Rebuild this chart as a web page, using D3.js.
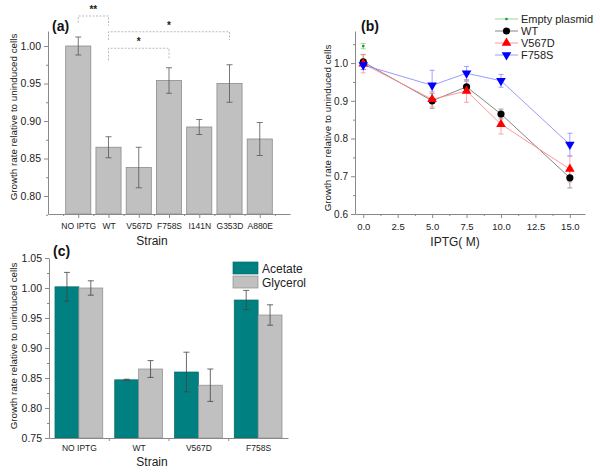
<!DOCTYPE html>
<html><head><meta charset="utf-8">
<script src="https://cdn.jsdelivr.net/npm/d3@7/dist/d3.min.js"></script>
<style>
body{margin:0;background:#fff;}
svg{display:block;font-family:"Liberation Sans",Arial,sans-serif;}
</style></head>
<body><svg id="c" width="600" height="474"></svg>
<script>
// ---------- Panel (a) data ----------
const strainsA = ["NO IPTG","WT","V567D","F758S","I141N","G353D","A880E"];
const valuesA  = [1.000, 0.865, 0.838, 0.954, 0.892, 0.950, 0.876];
const errA     = [0.012, 0.014, 0.027, 0.017, 0.010, 0.025, 0.022];
const ticksA   = [0.80, 0.85, 0.90, 0.95, 1.00];
// significance brackets: [from index, to index, top value, left-end value, right-end value, label]
const sigBrackets = [
  [0, 1, 1.040, 1.031, 1.027, "**"],
  [1, 5, 1.019, 1.008, 1.008, "*"],
  [1, 3, 0.997, 0.981, 0.982, "*"]
];

// ---------- Panel (b) data ----------
const iptg = [0, 5, 7.5, 10, 15];
const ticksBx = [0, 2.5, 5, 7.5, 10, 12.5, 15];
const ticksBy = [0.6, 0.7, 0.8, 0.9, 1.0];
const emptyX = [0];
const emptyY = [1.045];
const emptyE = [0.007];
const wtY  = [1.003, 0.900, 0.937, 0.865, 0.696];
const wtE  = [0.020, 0.020, 0.015, 0.013, 0.027];
const vY   = [0.998, 0.904, 0.926, 0.838, 0.719];
const vE   = [0.024, 0.020, 0.030, 0.026, 0.034];
const fY   = [0.995, 0.941, 0.973, 0.953, 0.784];
const fE   = [0.012, 0.040, 0.018, 0.017, 0.030];
const seriesB = ["Empty plasmid","WT","V567D","F758S"];

// ---------- Panel (c) data ----------
const strainsC = ["NO IPTG","WT","V567D","F758S"];
const acetate  = [1.002, 0.847, 0.860, 0.980];
const acetateE = [0.024, 0.001, 0.033, 0.016];
const glycerol = [1.000, 0.865, 0.838, 0.955];
const glycerolE= [0.012, 0.014, 0.027, 0.017];
const ticksC   = [0.75, 0.80, 0.85, 0.90, 0.95, 1.00, 1.05];
const seriesC  = ["Acetate","Glycerol"];

const svg = d3.select("#c");
const axisCol = "#8a8a8a";
const txtCol = "#222";

function styleAxis(g){
  g.select(".domain").attr("stroke", axisCol);
  g.selectAll(".tick line").attr("stroke", axisCol);
  g.selectAll(".tick text").attr("fill", txtCol);
}

// ================= Panel (a) =================
{
  const xa = d3.scaleLinear().domain([0, 8]).range([48, 290]);
  const ya = d3.scaleLinear().domain([0.776, 1.02]).range([214, 31]);
  const g = svg.append("g");
  const bw = (xa(1) - xa(0)) * 0.83;

  g.selectAll("rect.bar").data(valuesA).join("rect")
    .attr("x", (d,i) => xa(i+1) - bw/2).attr("width", bw)
    .attr("y", d => ya(d)).attr("height", d => ya.range()[0] - ya(d))
    .attr("fill", "#c0c0c0").attr("stroke", "#8c8c8c").attr("stroke-width", 0.8);

  // error bars
  const eb = g.selectAll("g.eb").data(valuesA).join("g").attr("stroke", "#555").attr("stroke-width", 0.8);
  eb.append("line").attr("x1",(d,i)=>xa(i+1)).attr("x2",(d,i)=>xa(i+1))
    .attr("y1",(d,i)=>ya(d-errA[i])).attr("y2",(d,i)=>ya(d+errA[i]));
  eb.append("line").attr("x1",(d,i)=>xa(i+1)-3).attr("x2",(d,i)=>xa(i+1)+3)
    .attr("y1",(d,i)=>ya(d+errA[i])).attr("y2",(d,i)=>ya(d+errA[i]));
  eb.append("line").attr("x1",(d,i)=>xa(i+1)-3).attr("x2",(d,i)=>xa(i+1)+3)
    .attr("y1",(d,i)=>ya(d-errA[i])).attr("y2",(d,i)=>ya(d-errA[i]));

  // y axis
  const yAx = g.append("g").attr("transform",`translate(${xa(0)},0)`)
    .call(d3.axisLeft(ya).tickValues(ticksA).tickFormat(d3.format(".2f")).tickSize(4).tickSizeOuter(0));
  yAx.selectAll(".tick text").attr("font-size", 10.5);
  styleAxis(yAx);
  g.append("g").attr("transform",`translate(${xa(0)},0)`)
    .call(d3.axisLeft(ya).tickValues(d3.range(0.775, 1.02, 0.025).filter(v=>ticksA.every(t=>Math.abs(t-v)>0.001))).tickSize(2).tickFormat(""))
    .call(a=>{a.select(".domain").remove(); a.selectAll("line").attr("stroke",axisCol);});

  // x axis
  const xAx = g.append("g").attr("transform",`translate(0,${ya.range()[0]})`)
    .call(d3.axisBottom(xa).tickValues(d3.range(1,8)).tickFormat(i=>strainsA[i-1]).tickSize(4).tickSizeOuter(0));
  xAx.selectAll(".tick text").attr("font-size", 8.5).attr("dy","0.9em");
  styleAxis(xAx);
  g.append("g").attr("transform",`translate(0,${ya.range()[0]})`)
    .call(d3.axisBottom(xa).tickValues(d3.range(0.5,8,1)).tickSize(2).tickFormat(""))
    .call(a=>{a.select(".domain").remove(); a.selectAll("line").attr("stroke",axisCol);});

  // brackets
  sigBrackets.forEach(b => {
    const [i0,i1,top,l,r,lab] = b;
    g.append("path")
      .attr("d", `M${xa(i0+1)},${ya(l)}V${ya(top)}H${xa(i1+1)}V${ya(r)}`)
      .attr("fill","none").attr("stroke","#aaa").attr("stroke-width",0.8).attr("stroke-dasharray","2,1.5");
    g.append("text").attr("x", xa((i0+i1)/2+1)).attr("y", ya(top)-3)
      .attr("text-anchor","middle").attr("font-size",10).attr("font-weight","bold").attr("fill",txtCol).text(lab);
  });

  g.append("text").attr("x",52).attr("y",31).attr("font-size",14).attr("font-weight","bold").attr("fill","#111").text("(a)");
  g.append("text").attr("transform",`translate(17,117)rotate(-90)`).attr("text-anchor","middle")
    .attr("font-size",9.8).attr("fill",txtCol).text("Growth rate relative to uninduced cells");
  g.append("text").attr("x",152).attr("y",245).attr("text-anchor","middle").attr("font-size",12).attr("fill",txtCol).text("Strain");
}

// ================= Panel (b) =================
{
  const xb = d3.scaleLinear().domain([-0.6, 16.1]).range([355, 585]);
  const yb = d3.scaleLinear().domain([0.6, 1.085]).range([214, 31]);
  const g = svg.append("g");

  const yAx = g.append("g").attr("transform",`translate(${xb.range()[0]},0)`)
    .call(d3.axisLeft(yb).tickValues(ticksBy).tickFormat(d3.format(".1f")).tickSize(4).tickSizeOuter(0));
  yAx.selectAll(".tick text").attr("font-size", 10);
  styleAxis(yAx);
  g.append("g").attr("transform",`translate(${xb.range()[0]},0)`)
    .call(d3.axisLeft(yb).tickValues([0.65,0.75,0.85,0.95,1.05]).tickSize(2).tickFormat(""))
    .call(a=>{a.select(".domain").remove(); a.selectAll("line").attr("stroke",axisCol);});

  const xAx = g.append("g").attr("transform",`translate(0,${yb.range()[0]})`)
    .call(d3.axisBottom(xb).tickValues(ticksBx).tickFormat(d3.format(".1f")).tickSize(4).tickSizeOuter(0));
  xAx.selectAll(".tick text").attr("font-size", 9.5).attr("dy","0.95em");
  styleAxis(xAx);
  g.append("g").attr("transform",`translate(0,${yb.range()[0]})`)
    .call(d3.axisBottom(xb).tickValues(d3.range(1.25,16,2.5)).tickSize(2).tickFormat(""))
    .call(a=>{a.select(".domain").remove(); a.selectAll("line").attr("stroke",axisCol);});

  const series = [
    {name:"WT", y:wtY, e:wtE, line:"#777", err:"#888", mark:"circle", fill:"#000"},
    {name:"V567D", y:vY, e:vE, line:"#ff8a8a", err:"#ff8f8f", mark:"tri", fill:"#f00"},
    {name:"F758S", y:fY, e:fE, line:"#8f8fff", err:"#8a8aff", mark:"itri", fill:"#00f"}
  ];
  const line = d3.line();
  function drawErr(x, y, e, col){
    const p = `M${xb(x)},${yb(y-e)}V${yb(y+e)}M${xb(x)-2.5},${yb(y+e)}h5M${xb(x)-2.5},${yb(y-e)}h5`;
    g.append("path").attr("d",p).attr("stroke",col).attr("stroke-width",0.8).attr("fill","none");
  }
  function drawMark(type, cx, cy, fill){
    if(type==="circle") g.append("circle").attr("cx",cx).attr("cy",cy).attr("r",3.6).attr("fill",fill);
    else if(type==="tri") g.append("path").attr("d",d3.symbol(d3.symbolTriangle,40)()).attr("transform",`translate(${cx},${cy})`).attr("fill",fill);
    else if(type==="itri") g.append("path").attr("d",d3.symbol(d3.symbolTriangle,40)()).attr("transform",`translate(${cx},${cy})rotate(180)`).attr("fill",fill);
    else if(type==="dot") g.append("circle").attr("cx",cx).attr("cy",cy).attr("r",1.3).attr("fill",fill);
  }
  // empty plasmid
  emptyX.forEach((x,i)=>drawErr(x, emptyY[i], emptyE[i], "#7fd07f"));
  series.forEach(s => s.y.forEach((v,i)=>drawErr(iptg[i], v, s.e[i], s.err)));
  series.forEach(s => {
    g.append("path").attr("d", line(iptg.map((x,i)=>[xb(x), yb(s.y[i])])))
      .attr("fill","none").attr("stroke",s.line).attr("stroke-width",0.9);
  });
  emptyX.forEach((x,i)=>drawMark("dot", xb(x), yb(emptyY[i]), "#1a9a1a"));
  series.forEach(s => s.y.forEach((v,i)=>drawMark(s.mark, xb(iptg[i]), yb(v), s.fill)));

  // legend
  const legItems = [
    {line:"#8fd08f", mark:"dot", fill:"#1a9a1a"},
    {line:"#777", mark:"circle", fill:"#000"},
    {line:"#ff8a8a", mark:"tri", fill:"#f00"},
    {line:"#8f8fff", mark:"itri", fill:"#00f"}
  ];
  legItems.forEach((it,i)=>{
    const y = 19 + i*12;
    g.append("line").attr("x1",495).attr("x2",518).attr("y1",y).attr("y2",y).attr("stroke",it.line).attr("stroke-width",0.9);
    drawMark(it.mark, 506.5, y, it.fill);
    g.append("text").attr("x",521).attr("y",y+4).attr("font-size",11).attr("fill",txtCol).text(seriesB[i]);
  });

  g.append("text").attr("x",361).attr("y",31).attr("font-size",14).attr("font-weight","bold").attr("fill","#111").text("(b)");
  g.append("text").attr("transform",`translate(331,128)rotate(-90)`).attr("text-anchor","middle")
    .attr("font-size",9.8).attr("fill",txtCol).text("Growth rate relative to uninduced cells");
  g.append("text").attr("x",455).attr("y",246).attr("text-anchor","middle").attr("font-size",12).attr("fill",txtCol).text("IPTG( M)");
}

// ================= Panel (c) =================
{
  const xc = d3.scaleLinear().domain([0.5, 4.5]).range([49, 288]);
  const yc = d3.scaleLinear().domain([0.75, 1.05]).range([438, 258]);
  const g = svg.append("g");
  const bw = xc(1.4) - xc(1);
  const cols = ["#008080", "#c0c0c0"];
  const sets = [[acetate, acetateE], [glycerol, glycerolE]];

  sets.forEach((s, k) => {
    g.selectAll(null).data(s[0]).join("rect")
      .attr("x", (d,i) => xc(i+1) + (k-1)*bw).attr("width", bw)
      .attr("y", d => yc(d)).attr("height", d => yc.range()[0] - yc(d))
      .attr("fill", cols[k]).attr("stroke", k ? "#8c8c8c" : "#0b6b6b").attr("stroke-width", 0.7);
  });
  sets.forEach((s, k) => {
    s[0].forEach((v,i)=>{
      const cx = xc(i+1) + (k-0.5)*bw, e = s[1][i];
      g.append("path").attr("d",`M${cx},${yc(v-e)}V${yc(v+e)}M${cx-3},${yc(v+e)}h6M${cx-3},${yc(v-e)}h6`)
        .attr("stroke","#444").attr("stroke-width",0.8).attr("fill","none");
    });
  });

  const yAx = g.append("g").attr("transform",`translate(${xc.range()[0]},0)`)
    .call(d3.axisLeft(yc).tickValues(ticksC).tickFormat(d3.format(".2f")).tickSize(4).tickSizeOuter(0));
  yAx.selectAll(".tick text").attr("font-size", 10.5);
  styleAxis(yAx);
  g.append("g").attr("transform",`translate(${xc.range()[0]},0)`)
    .call(d3.axisLeft(yc).tickValues(d3.range(0.775,1.05,0.05)).tickSize(2).tickFormat(""))
    .call(a=>{a.select(".domain").remove(); a.selectAll("line").attr("stroke",axisCol);});

  const xAx = g.append("g").attr("transform",`translate(0,${yc.range()[0]})`)
    .call(d3.axisBottom(xc).tickValues([1,2,3,4]).tickFormat(i=>strainsC[i-1]).tickSize(0).tickSizeOuter(0));
  xAx.selectAll(".tick text").attr("font-size", 8.5).attr("dy","1.2em");
  styleAxis(xAx);
  g.append("g").attr("transform",`translate(0,${yc.range()[0]})`)
    .call(d3.axisBottom(xc).tickValues([1.5,2.5,3.5]).tickSize(3).tickFormat(""))
    .call(a=>{a.select(".domain").remove(); a.selectAll("line").attr("stroke",axisCol);});

  // legend
  seriesC.forEach((n,i)=>{
    const y = 262 + i*14;
    g.append("rect").attr("x",233).attr("y",y).attr("width",25).attr("height",12)
      .attr("fill",cols[i]).attr("stroke", i ? "#8c8c8c" : "#0b6b6b").attr("stroke-width",0.7);
    g.append("text").attr("x",262).attr("y",y+10.5).attr("font-size",12).attr("fill",txtCol).text(n);
  });

  g.append("text").attr("x",53).attr("y",256).attr("font-size",14).attr("font-weight","bold").attr("fill","#111").text("(c)");
  g.append("text").attr("transform",`translate(17,346)rotate(-90)`).attr("text-anchor","middle")
    .attr("font-size",9.8).attr("fill",txtCol).text("Growth rate relative to uninduced cells");
  g.append("text").attr("x",152).attr("y",466).attr("text-anchor","middle").attr("font-size",12).attr("fill",txtCol).text("Strain");
}
</script>
</body></html>
